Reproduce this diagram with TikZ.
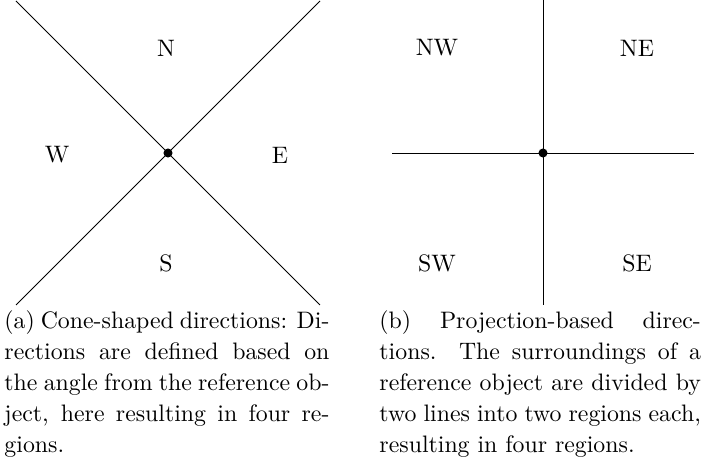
\documentclass[tikz,border=0pt]{standalone}
\usepackage{tikz}
\usetikzlibrary{positioning}
\tikzset{
  divline/.style={line width=0.4pt, color=black},
  refdot/.style={circle, fill=black, inner sep=0pt, minimum size=3.8pt},
  dirlabel/.style={font=\fontsize{10}{13}\selectfont, inner sep=0pt},
  capbox/.style={text width=136.5pt, align=justify, inner sep=0pt,
    font=\fontsize{10}{13}\selectfont}
}

\begin{document}
\begin{tikzpicture}[x=0.42pt, y=-0.42pt]
  \useasboundingbox (0,0) rectangle (707,462);

  % (a) Cone-shaped directions
  \coordinate (ca) at (168,153);
  \coordinate (ca-nw) at (16,1);
  \coordinate (ca-se) at (320,305);
  \coordinate (ca-ne) at (320,1);
  \coordinate (ca-sw) at (16,305);
  \draw[divline] (ca-nw) -- (ca-se);
  \draw[divline] (ca-ne) -- (ca-sw);
  \node[refdot] (dota) at (ca) {};
  \node[dirlabel] (n) at (166,48) {N};
  \node[dirlabel] (w) at (57,155) {W};
  \node[dirlabel] (e) at (280,155) {E};
  \node[dirlabel] (s) at (166,263) {S};

  % (b) Projection-based directions
  \coordinate (cb) at (543,153);
  \coordinate (cb-n) at (543,0);
  \coordinate (cb-s) at (543,305);
  \coordinate (cb-w) at (392,153);
  \coordinate (cb-e) at (694,153);
  \draw[divline] (cb-n) -- (cb-s);
  \draw[divline] (cb-w) -- (cb-e);
  \node[refdot] (dotb) at (cb) {};
  \node[dirlabel] (nw) at (437,48) {NW};
  \node[dirlabel] (ne) at (637,48) {NE};
  \node[dirlabel] (sw) at (437,263) {SW};
  \node[dirlabel] (se) at (637,263) {SE};

  % Captions
  \node[capbox, anchor=base west] (capa) at (4,329) {(a) Cone-shaped directions: Directions are defined based on the angle from the reference object, here resulting in four regions.};
  \node[capbox, text width=135pt, anchor=base west] (capb) at (379,329) {(b) Projection-based directions. The surroundings of a reference object are divided by two lines into two regions each, resulting in four regions.};
\end{tikzpicture}
\end{document}
